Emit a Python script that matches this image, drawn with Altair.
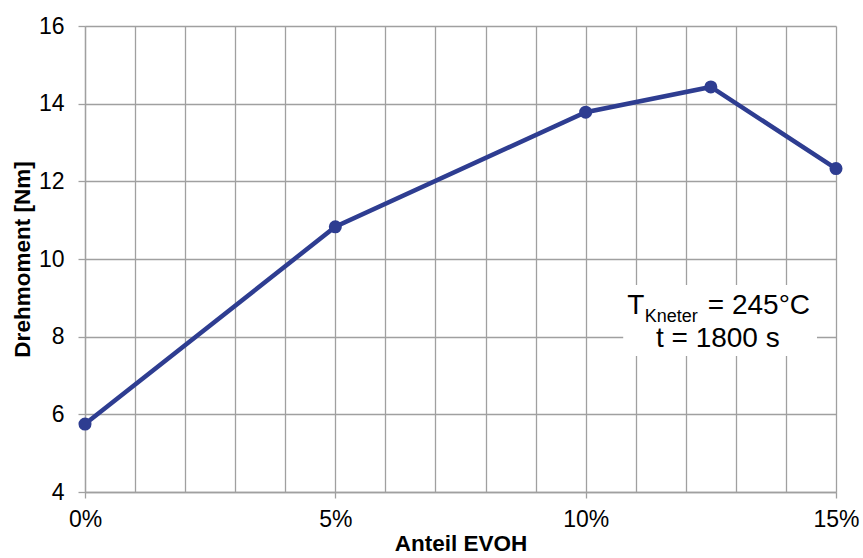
import altair as alt
import pandas as pd

# Measured torque vs. EVOH share
anteil_evoh = [0.0, 0.05, 0.10, 0.125, 0.15]
drehmoment = [5.75, 10.83, 13.78, 14.43, 12.33]

# Annotation pieces (positions in data units)
note_text = ["T", "Kneter", "= 245°C", "t = 1800 s"]
note_x = [0.1083, 0.1118, 0.1244, 0.1264]
note_y = [8.58, 8.38, 8.58, 7.73]
note_size = [28, 18, 28, 28]
note_align = ["left", "left", "left", "center"]

# White box behind the annotation
box_x = [0.1075]
box_x2 = [0.1462]
box_y = [9.33]
box_y2 = [7.50]

FONT = "Liberation Sans"
BLUE = "#2E3D91"
GRID = "#A0A0A0"

df = pd.DataFrame({"x": anteil_evoh, "y": drehmoment})
notes = pd.DataFrame({"x": note_x, "y": note_y, "t": note_text,
                      "s": note_size, "a": note_align})
box = pd.DataFrame({"x": box_x, "x2": box_x2, "y": box_y, "y2": box_y2})

x_scale = alt.Scale(domain=[0, 0.15], nice=False, zero=False)
y_scale = alt.Scale(domain=[4, 16], nice=False, zero=False)

x_axis = alt.Axis(
    values=[i / 100 for i in range(16)],
    labelExpr="round(datum.value*100) % 5 === 0 ? format(datum.value, '.0%') : ''",
    tickOpacity={"condition": {"test": "round(datum.value*100) % 5 === 0", "value": 1}, "value": 0},
    labelFlush=False,
    title="Anteil EVOH",
    tickSize=6, labelPadding=10, titlePadding=1,
)
y_axis = alt.Axis(
    values=[4, 6, 8, 10, 12, 14, 16],
    title="Drehmoment [Nm]",
    tickSize=7, labelPadding=14, titlePadding=4,
)

base = alt.Chart(df)

line = base.mark_line(color=BLUE, strokeWidth=4.5).encode(
    x=alt.X("x:Q", scale=x_scale, axis=x_axis),
    y=alt.Y("y:Q", scale=y_scale, axis=y_axis),
)
points = base.mark_point(filled=True, color=BLUE, size=170, opacity=1).encode(
    x=alt.X("x:Q", scale=x_scale),
    y=alt.Y("y:Q", scale=y_scale),
)

rect = alt.Chart(box).mark_rect(color="white").encode(
    x=alt.X("x:Q", scale=x_scale), x2="x2:Q",
    y=alt.Y("y:Q", scale=y_scale), y2="y2:Q",
)

def note_layer(i):
    sub = notes.iloc[[i]]
    return alt.Chart(sub).mark_text(
        font=FONT, fontSize=note_size[i], align=note_align[i],
        baseline="alphabetic", color="black",
    ).encode(
        x=alt.X("x:Q", scale=x_scale),
        y=alt.Y("y:Q", scale=y_scale),
        text="t:N",
    )

chart = alt.layer(
    line, points, rect, *[note_layer(i) for i in range(len(note_text))]
).properties(
    width=751, height=466,
    autosize=alt.AutoSizeParams(type="none"),
    padding={"left": 85, "top": 26, "right": 27, "bottom": 66},
    background="white",
).configure_view(
    strokeWidth=0,
).configure_axis(
    grid=True, gridColor=GRID, gridWidth=1.3,
    domainColor=GRID, domainWidth=1.3, tickColor=GRID, tickWidth=1.3,
    labelFont=FONT, labelFontSize=23, labelColor="black",
    titleFont=FONT, titleFontSize=22.5, titleFontWeight="bold", titleColor="black",
)

chart.save("out.html", embed_options={"renderer": "svg", "actions": False})
